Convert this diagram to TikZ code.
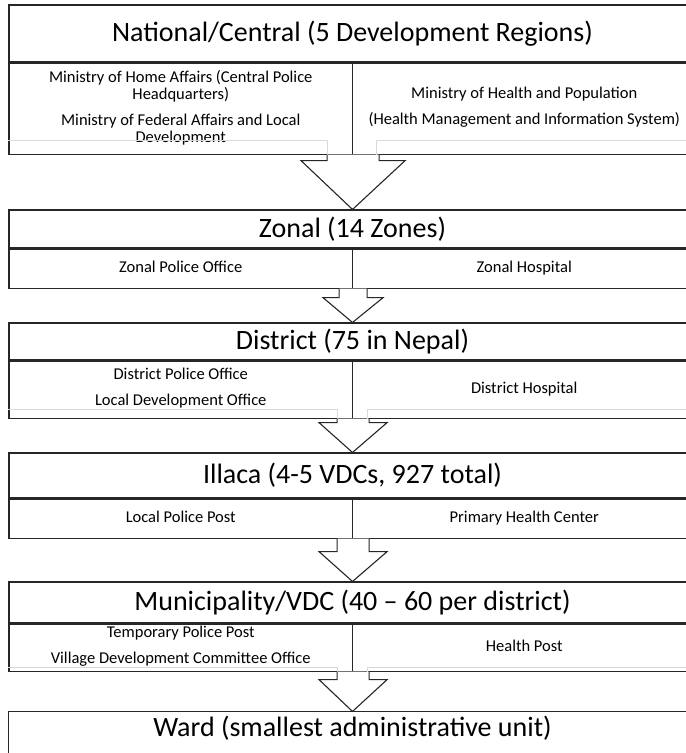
\documentclass[tikz,border=0pt]{standalone}
\usepackage{fontspec}
\setmainfont{Carlito}
\usetikzlibrary{calc}
\tikzset{>=stealth}

\tikzset{
  frame/.style={draw=black!85, line width=1.1pt},
  level/.style={frame, minimum width=687pt, minimum height=#1, inner sep=0pt,
    font=\fontsize{28}{32}\selectfont},
  level/.default=40pt,
  cell/.style={frame, minimum width=343.5pt, minimum height=#1, inner sep=0pt,
    align=center, font=\fontsize{16.5}{17}\selectfont,
    execute at begin node=\strut, execute at end node=\strut},
  cell/.default=40pt,
  ghost/.style={draw=black!15, line width=1pt},
  blockarrow/.style={frame, fill=white, line join=miter},
}

\begin{document}
\begin{tikzpicture}[x=1pt, y=-1pt]
  \path[use as bounding box, fill=white] (0,0) rectangle (686,753);
  \clip (0,0) rectangle (686,753);

  % national level
  \node[level=57pt] (nat) at (352.5,33.5) {National/Central (5 Development Regions)};
  \node[cell=91pt, anchor=north west] (natL) at (nat.south west)
    {Ministry of Home Affairs (Central Police\\Headquarters)\\[9pt]Ministry of Federal Affairs and Local\\Development};
  \node[cell=91pt, anchor=north east] (natR) at (nat.south east)
    {Ministry of Health and Population\\[9pt](Health Management and Information System)};

  % zonal level
  \node[level=38pt] (zon) at (352.5,229) {Zonal (14 Zones)};
  \node[cell=39pt, anchor=north west] (zonL) at (zon.south west) {Zonal Police Office};
  \node[cell=39pt, anchor=north east] (zonR) at (zon.south east) {Zonal Hospital};

  % district level
  \node[level=37pt] (dis) at (352.5,341.5) {District (75 in Nepal)};
  \node[cell=57pt, anchor=north west] (disL) at (dis.south west)
    {District Police Office\\[9pt]Local Development Office};
  \node[cell=57pt, anchor=north east] (disR) at (dis.south east) {District Hospital};

  % illaca level
  \node[level=45pt] (ill) at (352.5,475.5) {Illaca (4-5 VDCs, 927 total)};
  \node[cell=39pt, anchor=north west] (illL) at (ill.south west) {Local Police Post};
  \node[cell=39pt, anchor=north east] (illR) at (ill.south east) {Primary Health Center};

  % municipality level
  \node[level=41pt] (mun) at (352.5,602.5) {Municipality/VDC (40 – 60 per district)};
  \node[cell=47pt, anchor=north west] (munL) at (mun.south west)
    {Temporary Police Post\\[9pt]Village Development Committee Office};
  \node[cell=47pt, anchor=north east] (munR) at (mun.south east) {Health Post};

  % ward level
  \node[level=32pt, draw=none] (ward) at (352.5,728) {Ward (smallest administrative unit)};
  \draw[frame] ([yshift=-40pt]ward.south west) |- (ward.north east) -- ++(0,40);

  % faint lines
  \draw[ghost] ([yshift=14pt]natL.south west) -| ($(natL.south east)+(-26,0)$);
  \draw[ghost] ([yshift=14pt]natR.south east) -| ($(natR.south west)+(25,0)$);
  \draw[ghost] ([yshift=9pt]disL.south west) -| ($(disL.south east)+(-16,0)$);
  \draw[ghost] ([yshift=9pt]disR.south east) -| ($(disR.south west)+(16,0)$);
  \draw[ghost] ([yshift=4pt]munL.south west) -| ($(munL.south east)+(-16,0)$);
  \draw[ghost] ([yshift=4pt]munR.south east) -| ($(munR.south west)+(16,0)$);

  % arrows
  \draw[blockarrow] ($(natL.south east)+(-26,0)$) -- ++(0,6) -- ++(-26,0) -- (zon.north)
    -- ($(natL.south east)+(52,6)$) -- ++(-26,0) -- ++(0,-6);
  \draw[blockarrow] ($(zonL.south east)+(-14,0)$) -- ++(0,9) -- ++(-16,0) -- (dis.north)
    -- ($(zonL.south east)+(30,9)$) -- ++(-16,0) -- ++(0,-9);
  \draw[blockarrow] ($(disL.south east)+(-16,0)$) -- ++(0,4) -- ++(-18,0) -- (ill.north)
    -- ($(disL.south east)+(34,4)$) -- ++(-18,0) -- ++(0,-4);
  \draw[blockarrow] ($(illL.south east)+(-16,0)$) -- ++(0,13) -- ++(-18,0) -- (mun.north)
    -- ($(illL.south east)+(34,13)$) -- ++(-18,0) -- ++(0,-13);
  \draw[blockarrow] ($(munL.south east)+(-16,0)$) -- ++(0,8) -- ++(-18,0) -- (ward.north)
    -- ($(munL.south east)+(34,8)$) -- ++(-18,0) -- ++(0,-8);
\end{tikzpicture}
\end{document}
